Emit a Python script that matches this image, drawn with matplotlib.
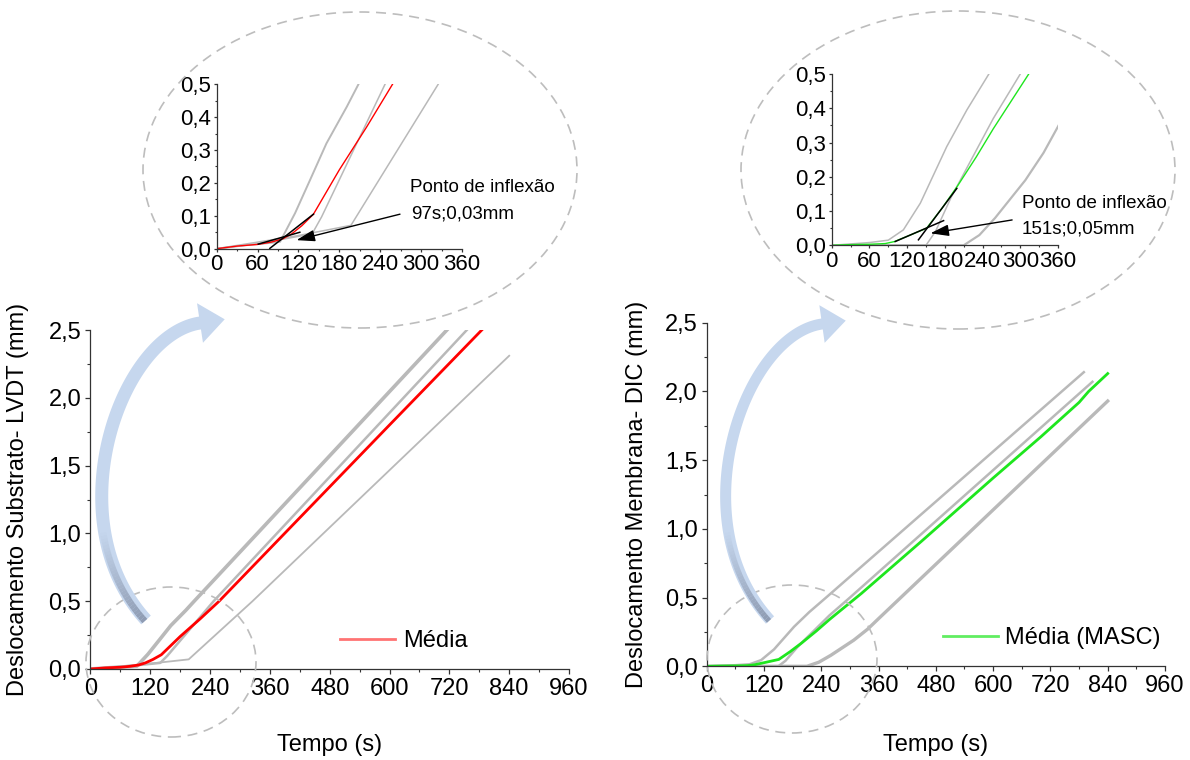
import numpy as np
import matplotlib.pyplot as plt
from matplotlib.patches import Ellipse, Polygon
from matplotlib.lines import Line2D
from matplotlib.collections import LineCollection
from matplotlib.ticker import MultipleLocator, FuncFormatter

plt.rcParams['font.family'] = ['Liberation Sans', 'DejaVu Sans']

# ---- Substrato (LVDT) ----
sub_t1 = [0, 40, 80, 93, 115, 137, 161, 191, 208, 715]
sub_d1 = [0, 0.01, 0.018, 0.021, 0.108, 0.209, 0.32, 0.432, 0.5, 2.5]
sub_t2 = [0, 60, 100, 140, 154, 247, 755]
sub_d2 = [0, 0.015, 0.03, 0.045, 0.097, 0.5, 2.5]
sub_t3 = [0, 60, 120, 197, 325, 840]
sub_d3 = [0, 0.02, 0.04, 0.071, 0.5, 2.31]
sub_t_media = [0, 30, 60, 80, 97, 110, 125, 142, 180, 220, 258, 400, 600, 785]
sub_d_media = [0, 0.008, 0.013, 0.02, 0.03, 0.045, 0.07, 0.105, 0.24, 0.37, 0.5, 1.04, 1.80, 2.5]
sub_tan_a_t = [61, 122]
sub_tan_a_d = [0.014, 0.050]
sub_tan_b_t = [78, 142]
sub_tan_b_d = [0.001, 0.105]

# ---- Membrana (DIC) ----
mem_t1 = [0, 60, 90, 114, 141, 183, 215, 250, 790]
mem_d1 = [0, 0.008, 0.015, 0.045, 0.123, 0.288, 0.395, 0.5, 2.14]
mem_t2 = [0, 150, 165, 190, 257, 300, 808]
mem_d2 = [0, 0, 0.04, 0.14, 0.37, 0.5, 2.07]
mem_t3 = [0, 210, 235, 260, 308, 337, 361, 840]
mem_d3 = [0, 0, 0.03, 0.08, 0.19, 0.27, 0.35, 1.93]
mem_t_media = [0, 30, 60, 85, 100, 125, 151, 175, 199, 230, 257, 324, 450, 600, 700, 780, 800, 840]
mem_d_media = [0, 0.002, 0.003, 0.005, 0.011, 0.03, 0.05, 0.107, 0.17, 0.258, 0.34, 0.53, 0.91, 1.37,
               1.67, 1.92, 2.0, 2.13]
mem_tan_a_t = [101, 178]
mem_tan_a_d = [0.011, 0.072]
mem_tan_b_t = [138, 199]
mem_tan_b_d = [0.016, 0.166]

W, H = 1190, 760
fig = plt.figure(figsize=(W / 100, H / 100), dpi=100)


def rect(x0, y0, x1, y1):
    return [x0 / W, 1 - y1 / H, (x1 - x0) / W, (y1 - y0) / H]


comma = FuncFormatter(lambda v, p: f'{v:.1f}'.replace('.', ','))


def style(ax, xmax, xmaj, ymax, ymaj, fs, tl, pad):
    ax.set_xlim(0, xmax)
    ax.set_ylim(0, ymax)
    ax.patch.set_alpha(0)
    for s in ['top', 'right']:
        ax.spines[s].set_visible(False)
    for s in ['left', 'bottom']:
        ax.spines[s].set_linewidth(0.9)
        ax.spines[s].set_color('#333333')
    ax.xaxis.set_major_locator(MultipleLocator(xmaj))
    ax.xaxis.set_minor_locator(MultipleLocator(xmaj / 2))
    ax.yaxis.set_major_locator(MultipleLocator(ymaj))
    ax.yaxis.set_minor_locator(MultipleLocator(ymaj / 2))
    ax.yaxis.set_major_formatter(comma)
    ax.tick_params(which='major', length=tl, width=0.9, color='#333333',
                   labelsize=fs, pad=pad)
    ax.tick_params(which='minor', length=tl * 0.6, width=0.8, color='#333333')


gray = '#b9b9b9'
green = '#1ee61e'

# main plots
ax1 = fig.add_axes(rect(90.5, 330, 569, 669))
ax1.plot(sub_t3, sub_d3, color=gray, lw=1.3)
ax1.plot(sub_t2, sub_d2, color=gray, lw=1.8)
ax1.plot(sub_t1, sub_d1, color=gray, lw=2.6)
ax1.plot(sub_t_media, sub_d_media, color='red', lw=2)
style(ax1, 960, 120, 2.5, 0.5, 17, 3.6, 3)
ax1.set_xlabel('Tempo (s)', fontsize=17)
ax1.set_ylabel('Deslocamento Substrato- LVDT (mm)', fontsize=17)
ax1.xaxis.set_label_coords(0.5, -0.192)
ax1.yaxis.set_label_coords(-0.128, 0.5)
ax1.legend(handles=[Line2D([], [], color='red', alpha=0.55, lw=2)], labels=['Média'],
           loc='center left', bbox_to_anchor=(340 / W, 1 - 641 / H), bbox_transform=fig.transFigure,
           frameon=False, fontsize=17, borderpad=0, borderaxespad=0,
           handlelength=2.33, handletextpad=0.34)

ax2 = fig.add_axes(rect(706.7, 322.7, 1165, 666.3))
ax2.plot(mem_t1, mem_d1, color=gray, lw=1.8)
ax2.plot(mem_t2, mem_d2, color=gray, lw=1.8)
ax2.plot(mem_t3, mem_d3, color=gray, lw=2.4)
ax2.plot(mem_t_media, mem_d_media, color=green, lw=2)
style(ax2, 960, 120, 2.5, 0.5, 17, 3.6, 3)
ax2.set_xlabel('Tempo (s)', fontsize=17)
ax2.set_ylabel('Deslocamento Membrana- DIC (mm)', fontsize=17)
ax2.xaxis.set_label_coords(0.5, -0.197)
ax2.yaxis.set_label_coords(-0.128, 0.5)
ax2.legend(handles=[Line2D([], [], color=green, alpha=0.7, lw=2)], labels=['Média (MASC)'],
           loc='center left', bbox_to_anchor=(943 / W, 1 - 638 / H), bbox_transform=fig.transFigure,
           frameon=False, fontsize=17, borderpad=0, borderaxespad=0,
           handlelength=2.33, handletextpad=0.3)

# insets
in1 = fig.add_axes(rect(216.7, 84.3, 462, 248.7))
in1.plot(sub_t3, sub_d3, color=gray, lw=1.1)
in1.plot(sub_t2, sub_d2, color=gray, lw=1.1)
in1.plot(sub_t1, sub_d1, color=gray, lw=1.4)
in1.plot(sub_t_media, sub_d_media, color='red', lw=1)
in1.plot(sub_tan_a_t, sub_tan_a_d, color='black', lw=1.1)
in1.plot(sub_tan_b_t, sub_tan_b_d, color='black', lw=1.1)
style(in1, 360, 60, 0.5, 0.1, 16, 2.5, 1.5)
in1.annotate('', xy=(117, 0.026), xytext=(269, 0.105),
             arrowprops=dict(arrowstyle='-|>,head_length=0.8,head_width=0.25', color='black',
                             lw=1, mutation_scale=14, shrinkA=0, shrinkB=0))

in2 = fig.add_axes(rect(831.7, 74, 1058, 245.3))
in2.plot(mem_t1, mem_d1, color=gray, lw=1.1)
in2.plot(mem_t2, mem_d2, color=gray, lw=1.1)
in2.plot(mem_t3, mem_d3, color=gray, lw=1.6)
in2.plot(mem_t_media, mem_d_media, color=green, lw=1)
in2.plot(mem_tan_a_t, mem_tan_a_d, color='black', lw=1.1)
in2.plot(mem_tan_b_t, mem_tan_b_d, color='black', lw=1.1)
style(in2, 360, 60, 0.5, 0.1, 16, 2.5, 1.5)
in2.annotate('', xy=(157, 0.035), xytext=(287, 0.074),
             arrowprops=dict(arrowstyle='-|>,head_length=0.8,head_width=0.25', color='black',
                             lw=1, mutation_scale=14, shrinkA=0, shrinkB=0))

fig.text(410 / W, 1 - 188 / H, 'Ponto de inflexão', fontsize=13.5, va='center')
fig.text(411 / W, 1 - 214 / H, '97s;0,03mm', fontsize=13.5, va='center')
fig.text(1022 / W, 1 - 203 / H, 'Ponto de inflexão', fontsize=13.5, va='center')
fig.text(1022 / W, 1 - 229 / H, '151s;0,05mm', fontsize=13.5, va='center')

# dashed ellipses
for cx, cy, w, h in [(360, 170, 434, 316), (958, 170, 434, 318), (171, 662, 170, 150), (792, 659, 170, 148)]:
    fig.add_artist(Ellipse((cx / W, 1 - cy / H), w / W, h / H, transform=fig.transFigure,
                           fill=False, ec='#bdbdbd', lw=1.2, ls=(0, (6, 4)), zorder=5))


# curved blue arrows
def curved_arrow(p0, p1, p2, p3, width, head_w, head_len):
    P = np.array([p0, p1, p2, p3], dtype=float)
    t = np.linspace(0, 1, 120)[:, None]
    B = ((1 - t) ** 3 * P[0] + 3 * (1 - t) ** 2 * t * P[1]
         + 3 * (1 - t) * t ** 2 * P[2] + t ** 3 * P[3])
    dB = (3 * (1 - t) ** 2 * (P[1] - P[0]) + 6 * (1 - t) * t * (P[2] - P[1])
          + 3 * t ** 2 * (P[3] - P[2]))
    d = dB / np.linalg.norm(dB, axis=1, keepdims=True)
    n = np.column_stack([-d[:, 1], d[:, 0]])
    left = B + n * width / 2
    right = B - n * width / 2
    tip = B[-1] + d[-1] * head_len
    head = [B[-1] + n[-1] * head_w / 2, tip, B[-1] - n[-1] * head_w / 2]
    pts = np.vstack([left, head, right[::-1]])
    fpts = np.column_stack([pts[:, 0] / W, 1 - pts[:, 1] / H])
    fig.add_artist(Polygon(fpts, closed=True, transform=fig.transFigure,
                           fc='#c6d7ee', ec='none', zorder=6))
    # darker shading near the tail
    k = 32
    sh = B[:k] - n[:k] * width * 0.12
    segs = [[(sh[i, 0] / W, 1 - sh[i, 1] / H), (sh[i + 1, 0] / W, 1 - sh[i + 1, 1] / H)]
            for i in range(k - 1)]
    alphas = np.linspace(0.95, 0.0, k - 1)
    cols = [(0.55, 0.6, 0.69, a) for a in alphas]
    fig.add_artist(LineCollection(segs, colors=cols, linewidths=width * 0.5 * 0.72,
                                  transform=fig.transFigure, zorder=7, capstyle='butt'))


curved_arrow((146, 620), (55, 520), (120, 335), (200, 323), 13, 40, 25)
curved_arrow((770, 620), (679, 520), (744, 335), (822, 324), 11, 38, 24)

fig.savefig('out.png', dpi=100)
